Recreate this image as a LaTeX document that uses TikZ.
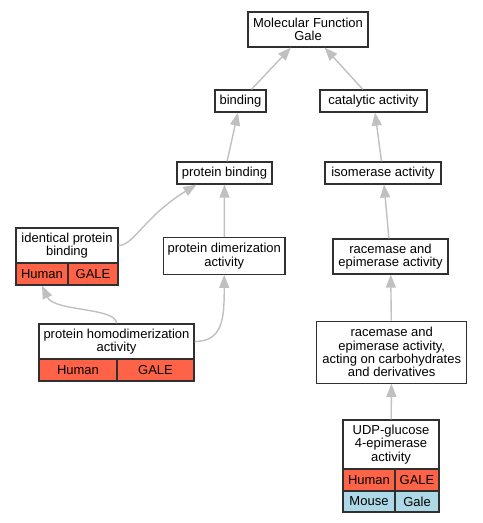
\documentclass[tikz,border=0pt]{standalone}
\usepackage{fontspec}
\setmainfont{Liberation Sans}
\usepackage{tikz, xcolor}
\usetikzlibrary{arrows.meta, calc}
\definecolor{humanred}{HTML}{FF6347}
\definecolor{mouseblue}{HTML}{ADD8E6}
\definecolor{edgegray}{HTML}{C0C0C0}
\definecolor{boxline}{HTML}{303030}
\tikzset{term/.style = {draw=boxline, line width=1.3bp, fill=white, inner sep=0pt, align=center, font=\fontsize{13bp}{13.4bp}\selectfont}}
\tikzset{human/.style = {term, fill=humanred, minimum height=22bp}}
\tikzset{mouse/.style = {term, fill=mouseblue, minimum height=21bp}}
\tikzset{isa/.style = {draw=edgegray, line width=1.4bp, -{Triangle[length=13bp, width=10bp]}}}

\begin{document}
\begin{tikzpicture}[x=1bp, y=1bp]
\useasboundingbox (0,0) rectangle (483,523);
\node[term, minimum width=120bp, minimum height=35bp] (mf) at (308,493.5) {Molecular Function\\Gale};
\node[term, minimum width=51bp, minimum height=22bp] (binding) at (240.5,422) {binding};
\node[term, minimum width=107bp, minimum height=22bp] (catalytic) at (373.5,422) {catalytic activity};
\node[term, minimum width=95bp, minimum height=22bp] (pbind) at (224.5,350) {protein binding};
\node[term, minimum width=116bp, minimum height=22bp] (isom) at (383,350) {isomerase activity};
\node[term, minimum width=102bp, minimum height=35bp] (identh) at (67,277.5) {identical protein\\binding};
\node[human, minimum width=52bp] (idenths) at (42,249) {Human};
\node[human, minimum width=50bp] (identgn) at (93,249) {GALE};
\node[term, minimum width=121.5bp, minimum height=36.5bp] (dimer) at (224.25,267) {protein dimerization\\activity};
\node[term, minimum width=155bp, minimum height=35bp] (homoh) at (116.5,181.5) {protein homodimerization\\activity};
\node[human, minimum width=78bp] (homohs) at (78,153) {Human};
\node[human, minimum width=77bp] (homogn) at (155.5,153) {GALE};
\node[term, minimum width=115bp, minimum height=35bp] (racem) at (390.5,266.5) {racemase and\\epimerase activity};
\node[term, minimum width=150bp, minimum height=62bp] (carbo) at (391.7,170.8) {racemase and\\epimerase activity,\\acting on carbohydrates\\and derivatives};
\node[term, minimum width=96bp, minimum height=49bp] (udph) at (391,78.5) {UDP-glucose\\4-epimerase\\activity};
\node[human, minimum width=52bp] (udphs) at (369,43) {Human};
\node[human, minimum width=44bp] (udpgn) at (417,43) {GALE};
\node[mouse, minimum width=52bp] (udpmm) at (369,21.5) {Mouse};
\node[mouse, minimum width=44bp] (udpmg) at (417,21.5) {Gale};
\draw[isa] (binding) -- (mf);
\draw[isa] (catalytic) -- (mf);
\draw[isa] (pbind) -- (binding);
\draw[isa] (isom) -- (catalytic);
\draw[isa] (dimer) -- (pbind);
\draw[isa] (racem) -- (isom);
\draw[isa] (carbo) -- (racem);
\draw[isa] (udph) -- (carbo);
\draw[isa] (identh.east) .. controls +(15,0) and +(-52,-32) .. ([xshift=20bp]pbind.south west);
\draw[isa] (homoh.north) .. controls +(0,16) and +(12,-26) .. (idenths.south);
\draw[isa] (homoh.east) .. controls +(28,0) and +(0,-44) .. (dimer.south);
\end{tikzpicture}
\end{document}
